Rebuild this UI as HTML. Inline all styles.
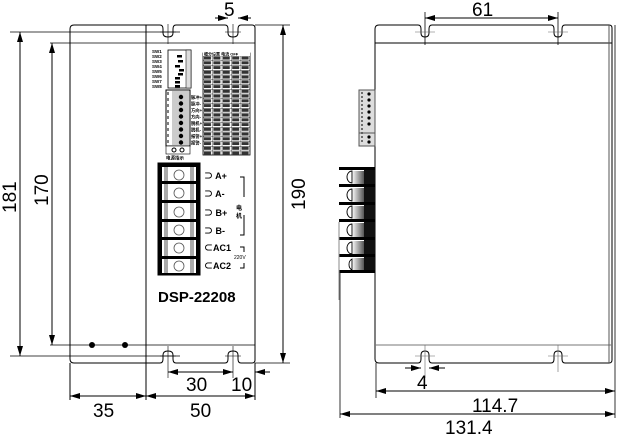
<!DOCTYPE html>
<html><head><meta charset="utf-8"><style>
html,body{margin:0;padding:0;background:#fff;width:618px;height:435px;overflow:hidden}
svg{display:block}
text{font-family:"Liberation Sans","Noto Sans CJK SC",sans-serif}
</style></head><body>
<svg width="618" height="435" viewBox="0 0 618 435" xmlns="http://www.w3.org/2000/svg">
<defs>
<marker id="a" viewBox="0 0 10 6" refX="10" refY="3" markerWidth="10" markerHeight="6" orient="auto-start-reverse" markerUnits="userSpaceOnUse"><path d="M0,0 L10,3 L0,6 z" fill="#000"/></marker>
<pattern id="tb" x="203" y="51" width="9.4" height="4.75" patternUnits="userSpaceOnUse">
<rect width="9.4" height="4.75" fill="#fff"/><rect x="1" y="0.8" width="7" height="3" fill="#333"/>
<path d="M0,0H9.4M0,0V4.75" stroke="#000" stroke-width="0.7"/></pattern>
</defs>
<g fill="none" stroke="#000" stroke-width="1">
<path d="M74,25 H160 Q163,25 163,29 V33 Q163,37 168,37 Q173,37 173,33 V29 Q173,25 176,25 H225 Q228,25 228,29 V33 Q228,37 233,37 Q238,37 238,33 V29 Q238,25 241,25 H252 Q255,25 255,28 V360 Q255,363 252,363 H241 Q238,363 238,359 V355 Q238,351 233,351 Q228,351 228,355 V359 Q228,363 225,363 H176 Q173,363 173,359 V355 Q173,351 168,351 Q163,351 163,355 V359 Q163,363 160,363 H74 Q70,363 70,359 V29 Q70,25 74,25 Z"/>
<line x1="146" y1="25" x2="146" y2="400"/>
<line x1="70" y1="363" x2="70" y2="400"/>
<line x1="255" y1="363" x2="255" y2="400"/>
<line x1="50" y1="43" x2="255" y2="43" stroke-width="0.8"/>
<line x1="50" y1="345" x2="255" y2="345" stroke-width="0.8"/>
<line x1="10" y1="32" x2="180" y2="32" stroke-width="0.8"/>
<line x1="10" y1="356" x2="180" y2="356" stroke-width="0.8"/>
<line x1="255" y1="25" x2="290" y2="25" stroke-width="0.8"/>
<line x1="255" y1="363" x2="290" y2="363" stroke-width="0.8"/>
<g stroke-width="0.6"><path d="M160,32H176M168,24V44M225,32H241M233,24V44M160,356H176M168,346V378M225,356H241M233,346V378"/></g>
<line x1="20" y1="32" x2="20" y2="356" marker-start="url(#a)" marker-end="url(#a)"/>
<line x1="52" y1="43" x2="52" y2="345" marker-start="url(#a)" marker-end="url(#a)"/>
<line x1="283" y1="25" x2="283" y2="363" marker-start="url(#a)" marker-end="url(#a)"/>
<line x1="215" y1="18" x2="228" y2="18" marker-end="url(#a)"/>
<line x1="251" y1="18" x2="238" y2="18" marker-end="url(#a)"/>
<line x1="168" y1="372" x2="233" y2="372" marker-start="url(#a)" marker-end="url(#a)"/>
<line x1="270" y1="372" x2="255" y2="372" marker-end="url(#a)"/>
<line x1="70" y1="396" x2="146" y2="396" marker-start="url(#a)" marker-end="url(#a)"/>
<line x1="146" y1="396" x2="255" y2="396" marker-start="url(#a)" marker-end="url(#a)"/>
<path d="M379,25 H418 Q421,25 421,29 V33 Q421,37 425,37 Q429,37 429,33 V29 Q429,25 432,25 H551 Q554,25 554,29 V33 Q554,37 558,37 Q562,37 562,33 V29 Q562,25 565,25 H609 Q612,25 612,28 V360 Q612,363 609,363 H565 Q562,363 562,359 V355 Q562,351 558,351 Q554,351 554,355 V359 Q554,363 551,363 H432 Q429,363 429,359 V355 Q429,351 425,351 Q421,351 421,355 V359 Q421,363 418,363 H379 Q375,363 375,359 V29 Q375,25 379,25 Z"/>
<line x1="375" y1="43" x2="612" y2="43"/>
<line x1="375" y1="345" x2="612" y2="345" stroke="#777"/>
<line x1="609" y1="25" x2="609" y2="363" stroke="#555"/>
<line x1="425" y1="12" x2="425" y2="45" stroke-width="0.8"/>
<line x1="558" y1="12" x2="558" y2="45" stroke-width="0.8"/>
<line x1="425" y1="18" x2="558" y2="18" marker-start="url(#a)" marker-end="url(#a)"/>
<g stroke-width="0.6" stroke="#666"><path d="M415,32H435M548,32H568M415,356H435M548,356H568M425,345V378M558,345V372"/></g>
<line x1="405" y1="368" x2="421" y2="368" marker-end="url(#a)"/>
<line x1="445" y1="368" x2="429" y2="368" marker-end="url(#a)"/>
<line x1="376" y1="363" x2="376" y2="398" stroke-width="0.8"/>
<line x1="615" y1="25" x2="615" y2="418" stroke-width="0.8"/>
<line x1="340" y1="270" x2="340" y2="418" stroke-width="0.8"/>
<line x1="376" y1="391" x2="615" y2="391" marker-start="url(#a)" marker-end="url(#a)"/>
<line x1="340" y1="414" x2="615" y2="414" marker-start="url(#a)" marker-end="url(#a)"/>
</g>
<circle cx="92" cy="345" r="3" fill="#000"/><circle cx="125" cy="345" r="3" fill="#000"/>
<g font-size="4.5" font-weight="bold" fill="#000">
<text x="152" y="53">SW1</text><text x="152" y="58">SW2</text><text x="152" y="63">SW3</text><text x="152" y="68">SW4</text><text x="152" y="73">SW5</text><text x="152" y="78">SW6</text><text x="152" y="83">SW7</text><text x="152" y="88">SW8</text>
</g>
<rect x="168" y="50" width="23" height="38" fill="#fff" stroke="#000" stroke-width="0.8"/>
<rect x="186" y="50" width="5" height="38" fill="#ddd" stroke="#000" stroke-width="0.5"/>
<g fill="#000"><rect x="177" y="55" width="5" height="2.5"/><rect x="178" y="60" width="5" height="2.5"/><rect x="175" y="65" width="5" height="2.5"/><rect x="179" y="69" width="5" height="2.5"/><rect x="178" y="73" width="5" height="2.5"/><rect x="175" y="77" width="5" height="2.5"/><rect x="175" y="81" width="5" height="2.5"/><rect x="175" y="85" width="5" height="2.5"/></g>
<rect x="203" y="53" width="47" height="102" fill="url(#tb)" stroke="#000" stroke-width="0.8"/>
<rect x="203" y="51" width="47" height="5" fill="#fff"/>
<text x="204" y="55.5" font-size="4" font-weight="bold">细分设置 电流 OFF</text>
<rect x="166" y="90" width="24" height="56" fill="#fff" stroke="#000"/>
<rect x="172" y="91" width="17" height="54" fill="#ccc"/>
<g fill="#000">
<circle cx="181" cy="97" r="2.2"/><circle cx="181" cy="103.5" r="2.2"/><circle cx="181" cy="110" r="2.2"/><circle cx="181" cy="116.5" r="2.2"/><circle cx="181" cy="123" r="2.2"/><circle cx="181" cy="129.5" r="2.2"/><circle cx="181" cy="136" r="2.2"/><circle cx="181" cy="142.5" r="2.2"/>
</g>
<line x1="168" y1="92" x2="168" y2="144" stroke="#000" stroke-dasharray="3,3"/>
<g font-size="4.3" font-weight="bold" fill="#000">
<text x="191" y="99">脉冲+</text><text x="191" y="105.5">脉冲-</text><text x="191" y="112">方向+</text><text x="191" y="118.5">方向-</text><text x="191" y="125">脱机+</text><text x="191" y="131.5">脱机-</text><text x="191" y="138">报警+</text><text x="191" y="144.5">报警-</text>
</g>
<rect x="166" y="146" width="24" height="8" fill="#fff" stroke="#000" stroke-width="0.6"/>
<circle cx="174" cy="150" r="2" fill="none" stroke="#000"/><circle cx="182" cy="150" r="2" fill="none" stroke="#000"/>
<text x="166" y="159.5" font-size="4.5" font-weight="bold">电源指示</text>
<g>
<rect x="158" y="163" width="42" height="112" fill="#fff" stroke="#000"/>
<rect x="158" y="163" width="4" height="112" fill="#000"/>
<rect x="196" y="163" width="4" height="112" fill="#000"/>
<rect x="164" y="163" width="4" height="112" fill="#aaa"/>
<rect x="190" y="163" width="4" height="112" fill="#aaa"/>
<g fill="#000"><rect x="158" y="163" width="42" height="4"/><rect x="158" y="181" width="42" height="3"/><rect x="158" y="200" width="42" height="3"/><rect x="158" y="219" width="42" height="3"/><rect x="158" y="237" width="42" height="3"/><rect x="158" y="256" width="42" height="3"/><rect x="158" y="273" width="42" height="2"/></g>
<g fill="#fff" stroke="#555" stroke-width="0.8"><circle cx="179" cy="175" r="5"/><circle cx="179" cy="193" r="5"/><circle cx="179" cy="212" r="5"/><circle cx="179" cy="230" r="5"/><circle cx="179" cy="248" r="5"/><circle cx="179" cy="266" r="5"/></g>
</g>
<g font-size="9" font-weight="bold" fill="#000">
<text x="204" y="179">⊃ A+</text><text x="204" y="197">⊃ A-</text><text x="204" y="216">⊃ B+</text><text x="204" y="234">⊃ B-</text><text x="204" y="251">⊂AC1</text><text x="204" y="269">⊂AC2</text>
</g>
<path d="M240,177H244V197M240,235H244V215" fill="none" stroke="#000"/>
<text x="236" y="210" font-size="6" font-weight="bold">电</text><text x="236" y="218" font-size="6" font-weight="bold">机</text>
<path d="M240,247H244V252M240,268H244V263" fill="none" stroke="#000"/>
<text x="234" y="259" font-size="5">220V</text>
<text x="158" y="302" font-size="15" font-weight="bold">DSP-22208</text>
<rect x="359" y="90" width="16" height="56" fill="#ddd" stroke="#555"/>
<line x1="362" y1="92" x2="362" y2="144" stroke="#000" stroke-dasharray="2,2"/>
<line x1="359" y1="133" x2="375" y2="133" stroke="#555"/>
<g fill="#000"><circle cx="369" cy="94" r="1.6"/><circle cx="369" cy="100" r="1.6"/><circle cx="369" cy="106" r="1.6"/><circle cx="369" cy="112" r="1.6"/><circle cx="369" cy="118" r="1.6"/><circle cx="369" cy="124" r="1.6"/><circle cx="369" cy="137" r="1.6"/><circle cx="369" cy="142" r="1.6"/></g>
<rect x="339" y="167" width="36" height="106" fill="#fff"/>
<rect x="364" y="167" width="11" height="106" fill="#111"/>
<g fill="#000"><rect x="339" y="167" width="36" height="3"/><rect x="339" y="184" width="36" height="3"/><rect x="339" y="202" width="36" height="3"/><rect x="339" y="219" width="36" height="3"/><rect x="339" y="237" width="36" height="3"/><rect x="339" y="254" width="36" height="3"/><rect x="339" y="270" width="36" height="3"/></g>
<defs><linearGradient id="g" x1="0" x2="1"><stop offset="0" stop-color="#eee"/><stop offset="1" stop-color="#555"/></linearGradient></defs>
<g fill="url(#g)"><rect x="353" y="171" width="11" height="13"/><rect x="353" y="188" width="11" height="14"/><rect x="353" y="206" width="11" height="13"/><rect x="353" y="223" width="11" height="14"/><rect x="353" y="241" width="11" height="13"/><rect x="353" y="258" width="11" height="12"/></g>
<g fill="#fff" stroke="#000" stroke-width="0.9"><path d="M352,171a5,6 0 0 0 0,12z"/><path d="M352,189a5,6 0 0 0 0,12z"/><path d="M352,206a5,6 0 0 0 0,12z"/><path d="M352,224a5,6 0 0 0 0,12z"/><path d="M352,242a5,6 0 0 0 0,12z"/><path d="M352,259a5,6 0 0 0 0,11z"/></g>
<line x1="339" y1="222" x2="339" y2="300" stroke="#888"/>
<g font-size="19" fill="#000">
<text x="224" y="16">5</text>
<text x="472" y="16">61</text>
<text x="186" y="391">30</text>
<text x="231" y="391">10</text>
<text x="93" y="417" >35</text>
<text x="190" y="417">50</text>
<text x="417" y="389">4</text>
<text x="472" y="412">114.7</text>
<text x="445" y="434">131.4</text>
<text transform="translate(16,213) rotate(-90)">181</text>
<text transform="translate(48,206) rotate(-90)">170</text>
<text transform="translate(305,210) rotate(-90)">190</text>
</g>
</svg>
</body></html>
